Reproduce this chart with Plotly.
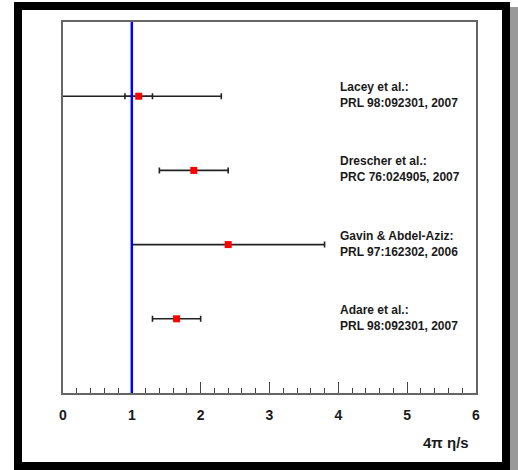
import plotly.graph_objects as go

# ---- data ----
labels = [
    "Lacey et al.:<br>PRL 98:092301, 2007",
    "Drescher et al.:<br>PRC 76:024905, 2007",
    "Gavin &amp; Abdel-Aziz:<br>PRL 97:162302, 2006",
    "Adare et al.:<br>PRL 98:092301, 2007",
]
y_pos = [4, 3, 2, 1]
values = [1.1, 1.9, 2.4, 1.65]
err_total = [1.2, 0.5, 1.4, 0.35]
err_stat = [0.2, None, None, None]
reference_value = 1.0
x_ticks = [0, 1, 2, 3, 4, 5, 6]

W, H = 518, 470
L, R, T, B = 63, 476, 22, 393
FONT = "Liberation Sans, Arial, sans-serif"

def px(xp):
    return (xp - L) / (R - L)

def py(yp):
    return (B - yp) / (B - T)

fig = go.Figure()

# total error bars
fig.add_trace(go.Scatter(
    x=values, y=y_pos, mode="markers",
    marker=dict(symbol="square", size=7, color="rgba(0,0,0,0)"),
    error_x=dict(type="data", array=err_total, visible=True,
                 color="#222222", thickness=1.6, width=3),
    showlegend=False, hoverinfo="skip"))

# stat error bars (only where given)
sx = [v for v, e in zip(values, err_stat) if e is not None]
sy = [y for y, e in zip(y_pos, err_stat) if e is not None]
se = [e for e in err_stat if e is not None]
fig.add_trace(go.Scatter(
    x=sx, y=sy, mode="markers",
    marker=dict(symbol="square", size=7, color="rgba(0,0,0,0)"),
    error_x=dict(type="data", array=se, visible=True,
                 color="#222222", thickness=1.6, width=3),
    showlegend=False, hoverinfo="skip"))

# central values
fig.add_trace(go.Scatter(
    x=values, y=y_pos, mode="markers",
    marker=dict(symbol="square", size=7, color="#ff0000",
                line=dict(width=0)),
    showlegend=False))

# labels
for lab, yv in zip(labels, y_pos):
    fig.add_annotation(x=4.0, y=yv, xref="x", yref="y", text=lab,
                       showarrow=False, xanchor="left", yanchor="middle",
                       align="left", yshift=1,
                       font=dict(family=FONT, size=12, color="#1a1a1a",
                                 weight="bold"))

# reference line
fig.add_shape(type="line", xref="x", yref="paper",
              x0=reference_value, x1=reference_value, y0=0, y1=1,
              line=dict(color="#0000ff", width=2.5), layer="above")

# outer frame & shadow
def rect(x0, y0, x1, y1, color):
    fig.add_shape(type="rect", xref="paper", yref="paper",
                  x0=px(x0), x1=px(x1), y0=py(y1), y1=py(y0),
                  fillcolor=color, line=dict(width=0), layer="above")

rect(510, 7, 518, 470, "#999999")
rect(14, 2, 510, 10, "#000000")
rect(14, 462, 510, 470, "#000000")
rect(14, 2, 22, 470, "#000000")
rect(502, 2, 510, 470, "#000000")

# axis title
fig.add_annotation(x=px(471), y=py(442), xref="paper", yref="paper",
                   text="4π η/s", showarrow=False, xanchor="right",
                   yanchor="middle",
                   font=dict(family=FONT, size=15, color="#1a1a1a",
                             weight="bold"))

fig.update_layout(
    width=W, height=H,
    margin=dict(l=L, r=W - R, t=T, b=H - B, pad=0),
    paper_bgcolor="white", plot_bgcolor="white",
    xaxis=dict(range=[0, 6], tickvals=x_ticks, ticks="inside", ticklen=11,
               tickwidth=1.2, tickcolor="#444444",
               minor=dict(ticks="inside", ticklen=5, dtick=0.2,
                          tickcolor="#444444", tickwidth=1.2, showgrid=False),
               showline=True, linecolor="#666666", linewidth=1.5,
               mirror=True, showgrid=False, zeroline=False,
               tickfont=dict(family=FONT, size=14, color="#1a1a1a",
                             weight="bold"),
               ticklabelstandoff=8),
    yaxis=dict(range=[0, 5], showticklabels=False, ticks="",
               showline=True, linecolor="#666666", linewidth=1.5,
               mirror=True, showgrid=False, zeroline=False),
)

fig.write_html("out.html")
